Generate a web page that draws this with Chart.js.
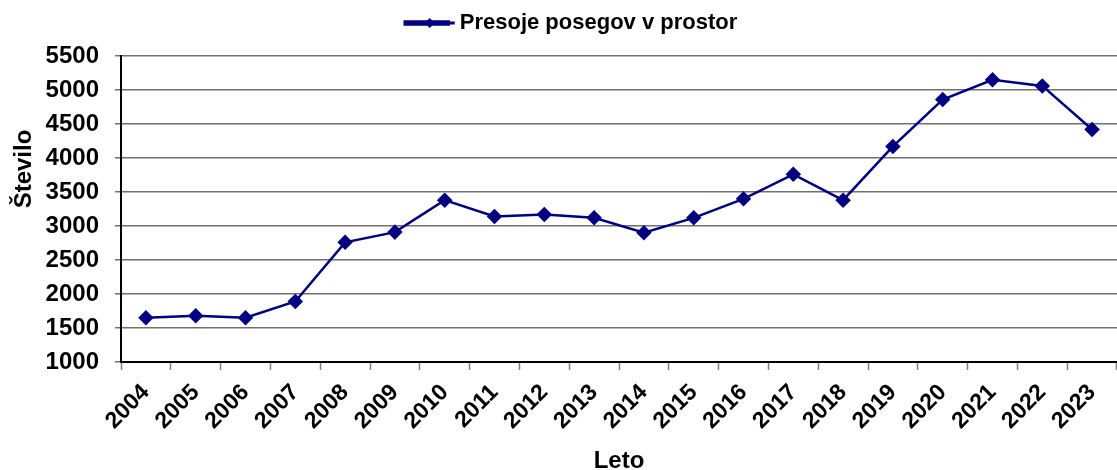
<!DOCTYPE html>
<html>
<head>
<meta charset="utf-8">
<script src="https://cdn.jsdelivr.net/npm/chart.js@4.4.1/dist/chart.umd.min.js"></script>
<style>
  html, body { margin: 0; padding: 0; background: #fff; overflow: hidden; }
  #wrap { width: 1117px; height: 470px; }
  canvas { display: block; }
</style>
</head>
<body>
<div id="wrap"><canvas id="presojeChart" width="1117" height="470"></canvas></div>
<script>
// Data
const years = ["2004", "2005", "2006", "2007", "2008", "2009", "2010", "2011", "2012", "2013",
               "2014", "2015", "2016", "2017", "2018", "2019", "2020", "2021", "2022", "2023"];
const presoje = [1650, 1680, 1650, 1890, 2760, 2910, 3380, 3140, 3170, 3120,
                 2900, 3120, 3400, 3760, 3380, 4170, 4860, 5150, 5060, 4420];
const yTicks = [1000, 1500, 2000, 2500, 3000, 3500, 4000, 4500, 5000, 5500];

const navy = "#000080";
const fontFamily = "'Liberation Sans', Arial, sans-serif";

// Legend tweaks: extra space under the legend, shift it a bit to the right,
// and draw line + diamond marker like the original
const legendTweak = {
    id: "legendTweak",
    beforeLayout(chart) {
        const legend = chart.legend;
        if (legend && !legend._patched) {
            const origFit = legend.fit;
            legend.fit = function() {
                origFit.call(this);
                this.height += 12;
            };
            legend._patched = true;
        }
    },
    afterLayout(chart) {
        if (chart.legend) chart.legend.left += 25;
    },
    afterDraw(chart) {
        const legend = chart.legend;
        if (!legend || !legend.legendHitBoxes.length) return;
        const box = legend.legendHitBoxes[0];
        const ctx = chart.ctx;
        const cx = box.left + 25;
        const cy = box.top + box.height / 2;
        ctx.save();
        ctx.strokeStyle = navy;
        ctx.lineWidth = 3;
        ctx.beginPath();
        ctx.moveTo(box.left, cy);
        ctx.lineTo(box.left + 50, cy);
        ctx.stroke();
        ctx.fillStyle = navy;
        ctx.beginPath();
        ctx.moveTo(cx, cy - 5);
        ctx.lineTo(cx + 5, cy);
        ctx.lineTo(cx, cy + 5);
        ctx.lineTo(cx - 5, cy);
        ctx.closePath();
        ctx.fill();
        ctx.restore();
    }
};

const ctx = document.getElementById("presojeChart").getContext("2d");
new Chart(ctx, {
    type: "line",
    data: {
        labels: years,
        datasets: [{
            label: "Presoje posegov v prostor",
            data: presoje,
            borderColor: navy,
            backgroundColor: navy,
            borderWidth: 2.5,
            pointStyle: "rectRot",
            pointRadius: 6,
            pointHoverRadius: 6,
            pointBackgroundColor: navy,
            pointBorderColor: navy,
            tension: 0,
            clip: false
        }]
    },
    options: {
        responsive: false,
        animation: false,
        layout: { autoPadding: false, padding: { top: -10, left: 0, right: 0, bottom: 0 } },
        plugins: {
            tooltip: { enabled: false },
            legend: {
                position: "top",
                labels: {
                    color: "#000",
                    font: { family: fontFamily, size: 22, weight: "bold" },
                    boxWidth: 44,
                    boxHeight: 3,
                    padding: 22
                }
            }
        },
        scales: {
            x: {
                offset: true,
                grid: {
                    offset: true,
                    drawOnChartArea: false,
                    tickLength: 8,
                    tickColor: "#808080",
                    tickWidth: 1.5
                },
                border: { color: "#000", width: 2 },
                ticks: {
                    color: "#000",
                    font: { family: fontFamily, size: 23, weight: "bold" },
                    maxRotation: 45,
                    minRotation: 45,
                    padding: 9,
                    autoSkip: false
                },
                title: {
                    display: true,
                    text: "Leto",
                    color: "#000",
                    font: { family: fontFamily, size: 24, weight: "bold" },
                    padding: { top: 0, bottom: -6 }
                },
                afterFit(scale) {
                    scale.height = 108;
                    scale.paddingLeft = 0;
                    scale.paddingRight = 0;
                }
            },
            y: {
                min: 1000,
                max: 5500,
                afterBuildTicks(scale) {
                    scale.ticks = yTicks.map(v => ({ value: v }));
                },
                grid: {
                    color: "#707070",
                    lineWidth: 1.5,
                    tickLength: 6,
                    tickColor: "#707070"
                },
                border: { color: "#000", width: 2 },
                ticks: {
                    color: "#000",
                    font: { family: fontFamily, size: 24, weight: "bold" },
                    padding: 16,
                    callback: v => String(v)
                },
                title: {
                    display: true,
                    // leading spaces lift the visible word above the axis centre, as in the original
                    text: "            Število",
                    color: "#000",
                    font: { family: fontFamily, size: 24, weight: "bold" },
                    padding: { top: 10, bottom: 0 }
                },
                afterFit(scale) {
                    scale.width = 121;
                }
            }
        }
    },
    plugins: [legendTweak]
});
</script>
</body>
</html>
